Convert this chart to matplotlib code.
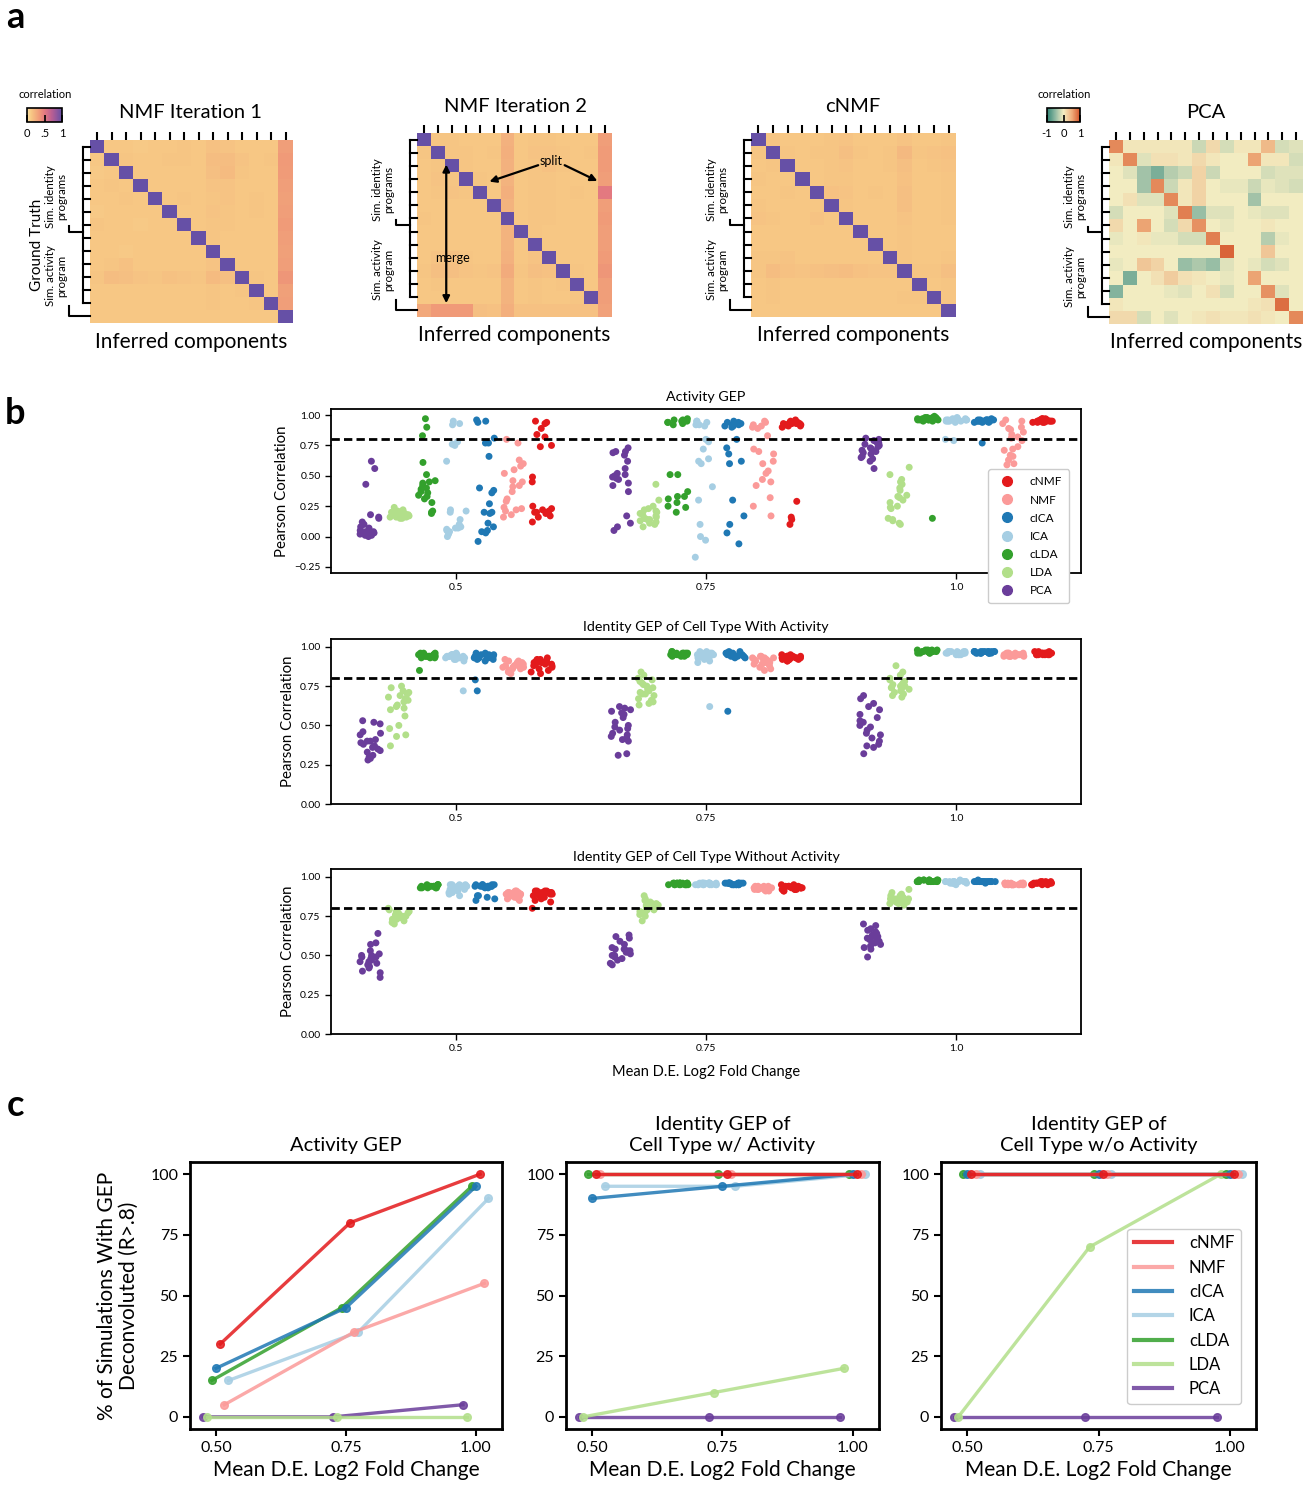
import numpy as np
import pandas as pd
import matplotlib
matplotlib.use("Agg")
import matplotlib.pyplot as plt
import seaborn as sns
from matplotlib.colors import LinearSegmentedColormap, Normalize
from matplotlib.cm import ScalarMappable
from matplotlib.lines import Line2D
from matplotlib.transforms import blended_transform_factory

plt.rcParams['font.family'] = ['Lato', 'DejaVu Sans']

# ---------------- data ----------------
methods = ['cNMF', 'NMF', 'cICA', 'ICA', 'cLDA', 'LDA', 'PCA']
method_colors = ['#e31a1c', '#fb9a99', '#1f78b4', '#a6cee3', '#33a02c', '#b2df8a', '#6a3d9a']
strip_order = ['PCA', 'LDA', 'cLDA', 'ICA', 'cICA', 'NMF', 'cNMF']
fc_labels = ['0.5', '0.75', '1.0']
fold_changes = [0.5, 0.75, 1.0]

# correlation matrices (x100), rows = ground truth, cols = inferred components
nmf1_corr = [
    [100, 12, 12, 11, 12, 12, 13, 12, 15, 14, 12, 12, 12, 33],
    [12, 100, 13, 12, 12, 13, 13, 12, 17, 17, 14, 12, 13, 35],
    [11, 12, 100, 12, 12, 12, 12, 12, 16, 18, 13, 12, 12, 34],
    [12, 13, 12, 100, 12, 12, 12, 12, 14, 14, 12, 12, 12, 33],
    [12, 12, 13, 12, 100, 12, 13, 12, 13, 14, 12, 13, 12, 32],
    [11, 12, 12, 12, 12, 100, 12, 12, 14, 13, 12, 13, 12, 33],
    [13, 12, 12, 11, 12, 12, 100, 12, 13, 13, 12, 12, 12, 34],
    [12, 12, 12, 12, 12, 12, 12, 100, 13, 12, 12, 12, 12, 33],
    [12, 12, 11, 12, 12, 12, 12, 12, 100, 12, 12, 12, 12, 32],
    [12, 13, 15, 12, 12, 12, 12, 12, 14, 100, 12, 12, 12, 33],
    [13, 17, 16, 14, 13, 15, 14, 13, 18, 16, 100, 13, 12, 37],
    [12, 12, 12, 12, 12, 12, 12, 12, 13, 12, 13, 100, 12, 32],
    [12, 12, 12, 12, 12, 12, 12, 12, 13, 12, 12, 13, 100, 33],
    [12, 12, 12, 12, 12, 12, 12, 12, 12, 12, 12, 12, 12, 100],
]
nmf2_corr = [
    [100, 13, 13, 12, 12, 12, 23, 12, 13, 13, 12, 12, 12, 33],
    [13, 100, 13, 13, 12, 13, 24, 12, 14, 14, 13, 12, 13, 34],
    [12, 13, 100, 13, 12, 12, 23, 12, 13, 15, 13, 12, 12, 34],
    [12, 14, 13, 100, 13, 12, 22, 12, 13, 13, 12, 12, 12, 33],
    [12, 13, 14, 13, 100, 12, 24, 12, 13, 13, 12, 13, 12, 50],
    [12, 12, 12, 12, 12, 100, 22, 12, 13, 13, 12, 12, 12, 33],
    [13, 12, 12, 12, 12, 12, 100, 12, 13, 13, 12, 12, 12, 34],
    [12, 12, 12, 12, 12, 12, 22, 100, 13, 12, 12, 12, 12, 33],
    [12, 12, 12, 12, 12, 12, 22, 12, 100, 12, 12, 12, 12, 33],
    [12, 14, 15, 13, 12, 12, 23, 12, 14, 100, 12, 12, 12, 34],
    [13, 16, 16, 14, 13, 14, 26, 13, 16, 15, 100, 13, 12, 37],
    [12, 13, 12, 12, 12, 12, 22, 12, 13, 12, 13, 100, 12, 33],
    [12, 12, 12, 12, 12, 12, 22, 12, 13, 12, 12, 13, 100, 33],
    [28, 35, 35, 35, 16, 15, 24, 15, 15, 15, 15, 15, 15, 31],
]
cnmf_corr = [
    [100, 13, 12, 12, 12, 13, 14, 12, 12, 12, 14, 12, 12, 13],
    [13, 100, 13, 12, 13, 13, 16, 13, 12, 13, 19, 13, 14, 15],
    [12, 13, 100, 12, 12, 13, 14, 12, 12, 13, 16, 12, 13, 14],
    [13, 12, 12, 100, 12, 13, 13, 12, 12, 12, 15, 12, 12, 13],
    [12, 12, 13, 12, 100, 15, 14, 12, 13, 12, 16, 12, 12, 13],
    [13, 12, 12, 12, 12, 100, 13, 12, 12, 12, 16, 12, 12, 13],
    [14, 13, 12, 12, 14, 12, 100, 12, 12, 12, 14, 12, 12, 13],
    [12, 12, 12, 12, 12, 12, 12, 100, 12, 12, 13, 12, 12, 12],
    [12, 12, 12, 12, 12, 12, 12, 12, 100, 12, 13, 12, 12, 12],
    [13, 13, 14, 12, 12, 12, 12, 12, 12, 100, 13, 12, 12, 13],
    [13, 17, 15, 14, 15, 16, 17, 15, 14, 14, 100, 13, 13, 16],
    [12, 13, 12, 12, 12, 12, 12, 12, 12, 12, 12, 100, 12, 13],
    [12, 13, 12, 12, 12, 12, 12, 12, 12, 12, 13, 13, 100, 13],
    [12, 12, 12, 12, 12, 12, 12, 12, 12, 12, 12, 12, 12, 100],
]
pca_corr = [
    [70, 5, 5, 5, 5, 5, -20, 15, -15, 5, 5, 40, -15, -10],
    [5, 70, -10, 10, 10, 5, 15, 5, 0, 0, 55, 5, 5, -15],
    [0, -10, -40, -60, -30, -20, 20, -20, 0, 0, 0, -15, -10, -10],
    [0, 0, -40, 70, -20, 5, 20, 0, -5, -5, -20, -5, -10, -15],
    [0, 10, -10, -10, 70, 5, 20, 0, 0, 0, -40, 0, 0, 0],
    [-15, 0, 0, 0, -10, 75, -45, -10, -10, 0, -5, -10, -10, 0],
    [15, 0, 55, 0, -15, 15, 65, 0, -5, 0, 0, 5, 0, 0],
    [-5, 0, 5, -5, -5, -15, -15, 75, 0, 0, 0, -30, -5, 0],
    [0, 0, 0, 0, 0, 0, 0, 0, 90, 0, 0, 30, 0, 0],
    [-5, 0, 30, 20, 0, -45, -35, -45, -10, 0, -5, -15, -10, 0],
    [0, -60, 0, 10, 25, 10, 5, 0, -5, 0, 55, 0, 0, 0],
    [-55, 0, 0, 0, -5, -10, 0, 10, -15, 0, 0, 65, -10, 0],
    [5, 0, 0, 0, 0, 0, 0, 0, 0, 0, 5, 10, 85, 0],
    [15, 15, -15, 0, -10, 0, 5, 10, 5, 5, 10, 5, 0, 70],
]

# Pearson correlation per simulation, [fc 0.5, fc 0.75, fc 1.0]
act_pca = [
    [0.62, 0.56, 0.43, 0.18, 0.16, 0.15, 0.12, 0.10, 0.08, 0.07, 0.05, 0.05, 0.04, 0.04, 0.03, 0.03, 0.02, 0.01, 0.01, 0.00],
    [0.73, 0.70, 0.70, 0.69, 0.67, 0.62, 0.56, 0.52, 0.51, 0.49, 0.48, 0.47, 0.44, 0.42, 0.37, 0.17, 0.11, 0.08, 0.05, 0.50],
    [0.81, 0.80, 0.79, 0.78, 0.77, 0.76, 0.75, 0.74, 0.73, 0.72, 0.71, 0.70, 0.69, 0.68, 0.66, 0.65, 0.64, 0.62, 0.56, 0.78]]
act_lda = [
    [0.24, 0.22, 0.21, 0.20, 0.20, 0.19, 0.19, 0.18, 0.18, 0.18, 0.17, 0.17, 0.17, 0.16, 0.16, 0.16, 0.15, 0.15, 0.19, 0.18],
    [0.43, 0.30, 0.25, 0.23, 0.22, 0.21, 0.20, 0.19, 0.18, 0.17, 0.16, 0.15, 0.15, 0.14, 0.14, 0.13, 0.12, 0.11, 0.10, 0.08],
    [0.57, 0.51, 0.47, 0.45, 0.43, 0.40, 0.38, 0.34, 0.33, 0.32, 0.30, 0.28, 0.25, 0.24, 0.23, 0.15, 0.14, 0.13, 0.11, 0.10]]
act_clda = [
    [0.97, 0.90, 0.83, 0.61, 0.51, 0.46, 0.45, 0.44, 0.42, 0.40, 0.39, 0.37, 0.36, 0.34, 0.33, 0.31, 0.28, 0.21, 0.20, 0.19],
    [0.97, 0.96, 0.96, 0.95, 0.95, 0.95, 0.94, 0.94, 0.93, 0.92, 0.51, 0.51, 0.37, 0.33, 0.33, 0.31, 0.28, 0.25, 0.24, 0.20],
    [0.99, 0.98, 0.98, 0.98, 0.97, 0.97, 0.97, 0.97, 0.97, 0.96, 0.96, 0.96, 0.96, 0.96, 0.95, 0.95, 0.97, 0.98, 0.96, 0.15]]
act_ica = [
    [0.95, 0.93, 0.92, 0.78, 0.76, 0.75, 0.62, 0.22, 0.21, 0.20, 0.14, 0.10, 0.08, 0.07, 0.07, 0.06, 0.05, 0.04, 0.02, 0.00],
    [0.95, 0.95, 0.94, 0.93, 0.92, 0.91, 0.80, 0.79, 0.78, 0.72, 0.64, 0.62, 0.60, 0.41, 0.30, 0.10, 0.00, -0.03, -0.17, 0.92],
    [0.98, 0.97, 0.97, 0.97, 0.96, 0.96, 0.96, 0.96, 0.96, 0.96, 0.95, 0.95, 0.95, 0.95, 0.97, 0.96, 0.94, 0.80, 0.79, 0.96]]
act_cica = [
    [0.96, 0.95, 0.94, 0.81, 0.77, 0.77, 0.66, 0.40, 0.38, 0.36, 0.27, 0.20, 0.20, 0.19, 0.11, 0.08, 0.05, 0.04, 0.03, -0.04],
    [0.95, 0.94, 0.94, 0.93, 0.93, 0.92, 0.92, 0.91, 0.91, 0.90, 0.80, 0.73, 0.68, 0.62, 0.60, 0.30, 0.17, 0.10, 0.03, -0.06],
    [0.97, 0.96, 0.96, 0.96, 0.95, 0.95, 0.95, 0.95, 0.95, 0.94, 0.94, 0.96, 0.95, 0.96, 0.95, 0.94, 0.95, 0.96, 0.95, 0.77]]
act_nmf = [
    [0.80, 0.77, 0.63, 0.60, 0.58, 0.55, 0.52, 0.46, 0.45, 0.42, 0.41, 0.37, 0.31, 0.29, 0.24, 0.23, 0.22, 0.21, 0.18, 0.16],
    [0.95, 0.94, 0.92, 0.91, 0.90, 0.89, 0.83, 0.72, 0.70, 0.68, 0.62, 0.60, 0.54, 0.52, 0.47, 0.45, 0.42, 0.32, 0.25, 0.17],
    [0.96, 0.95, 0.93, 0.90, 0.89, 0.88, 0.86, 0.84, 0.82, 0.81, 0.79, 0.74, 0.72, 0.71, 0.67, 0.66, 0.63, 0.60, 0.59, 0.51]]
act_cnmf = [
    [0.95, 0.94, 0.93, 0.89, 0.84, 0.82, 0.75, 0.74, 0.49, 0.45, 0.25, 0.23, 0.22, 0.21, 0.20, 0.20, 0.19, 0.17, 0.16, 0.12],
    [0.96, 0.95, 0.95, 0.94, 0.94, 0.93, 0.93, 0.93, 0.92, 0.92, 0.92, 0.91, 0.91, 0.90, 0.93, 0.94, 0.29, 0.16, 0.14, 0.10],
    [0.97, 0.97, 0.96, 0.96, 0.96, 0.96, 0.95, 0.95, 0.95, 0.95, 0.95, 0.94, 0.94, 0.94, 0.96, 0.97, 0.95, 0.96, 0.94, 0.95]]

idw_pca = [
    [0.53, 0.52, 0.51, 0.46, 0.44, 0.41, 0.40, 0.40, 0.39, 0.38, 0.37, 0.36, 0.35, 0.34, 0.33, 0.31, 0.30, 0.29, 0.28, 0.45],
    [0.62, 0.61, 0.60, 0.59, 0.58, 0.57, 0.55, 0.52, 0.50, 0.49, 0.48, 0.47, 0.45, 0.44, 0.43, 0.42, 0.41, 0.40, 0.32, 0.31],
    [0.69, 0.67, 0.64, 0.62, 0.60, 0.57, 0.55, 0.53, 0.52, 0.50, 0.49, 0.47, 0.45, 0.44, 0.42, 0.40, 0.38, 0.37, 0.36, 0.32]]
idw_lda = [
    [0.75, 0.74, 0.72, 0.71, 0.70, 0.69, 0.68, 0.67, 0.66, 0.65, 0.63, 0.62, 0.61, 0.60, 0.56, 0.50, 0.48, 0.44, 0.43, 0.37],
    [0.84, 0.82, 0.80, 0.79, 0.78, 0.77, 0.76, 0.75, 0.74, 0.73, 0.72, 0.71, 0.70, 0.70, 0.69, 0.67, 0.66, 0.65, 0.64, 0.63],
    [0.88, 0.84, 0.82, 0.80, 0.79, 0.78, 0.77, 0.76, 0.76, 0.75, 0.75, 0.74, 0.74, 0.73, 0.73, 0.72, 0.71, 0.70, 0.69, 0.68]]
idw_clda = [
    [0.96, 0.96, 0.95, 0.95, 0.95, 0.95, 0.94, 0.94, 0.94, 0.94, 0.94, 0.93, 0.93, 0.93, 0.95, 0.94, 0.96, 0.95, 0.94, 0.85],
    [0.97, 0.97, 0.96, 0.96, 0.96, 0.96, 0.96, 0.95, 0.95, 0.95, 0.95, 0.95, 0.95, 0.94, 0.94, 0.96, 0.95, 0.96, 0.95, 0.94],
    [0.98, 0.98, 0.98, 0.97, 0.97, 0.97, 0.97, 0.97, 0.97, 0.97, 0.96, 0.96, 0.96, 0.98, 0.97, 0.97, 0.96, 0.97, 0.98, 0.97]]
idw_ica = [
    [0.96, 0.95, 0.95, 0.95, 0.94, 0.94, 0.94, 0.94, 0.93, 0.93, 0.93, 0.93, 0.92, 0.92, 0.91, 0.94, 0.95, 0.93, 0.94, 0.72],
    [0.97, 0.97, 0.96, 0.96, 0.96, 0.95, 0.95, 0.95, 0.95, 0.94, 0.94, 0.94, 0.93, 0.93, 0.92, 0.91, 0.90, 0.96, 0.95, 0.62],
    [0.97, 0.97, 0.97, 0.97, 0.96, 0.96, 0.96, 0.96, 0.96, 0.96, 0.96, 0.95, 0.95, 0.95, 0.97, 0.96, 0.96, 0.95, 0.97, 0.96]]
idw_cica = [
    [0.96, 0.96, 0.95, 0.95, 0.95, 0.94, 0.94, 0.94, 0.94, 0.93, 0.93, 0.93, 0.92, 0.92, 0.91, 0.95, 0.94, 0.93, 0.79, 0.72],
    [0.97, 0.97, 0.96, 0.96, 0.96, 0.96, 0.95, 0.95, 0.95, 0.95, 0.95, 0.94, 0.94, 0.94, 0.93, 0.93, 0.96, 0.95, 0.94, 0.59],
    [0.97, 0.97, 0.97, 0.97, 0.97, 0.97, 0.96, 0.96, 0.96, 0.96, 0.96, 0.96, 0.97, 0.97, 0.96, 0.97, 0.96, 0.97, 0.96, 0.97]]
idw_nmf = [
    [0.92, 0.91, 0.91, 0.90, 0.90, 0.89, 0.89, 0.88, 0.88, 0.87, 0.87, 0.86, 0.86, 0.85, 0.84, 0.83, 0.90, 0.89, 0.88, 0.87],
    [0.94, 0.94, 0.93, 0.93, 0.92, 0.92, 0.91, 0.91, 0.90, 0.90, 0.89, 0.88, 0.87, 0.86, 0.85, 0.92, 0.91, 0.93, 0.89, 0.90],
    [0.96, 0.96, 0.96, 0.95, 0.95, 0.95, 0.95, 0.95, 0.94, 0.94, 0.94, 0.94, 0.95, 0.96, 0.95, 0.94, 0.95, 0.96, 0.95, 0.94]]
idw_cnmf = [
    [0.93, 0.92, 0.92, 0.91, 0.91, 0.90, 0.90, 0.90, 0.89, 0.89, 0.88, 0.88, 0.87, 0.86, 0.85, 0.84, 0.83, 0.91, 0.90, 0.89],
    [0.95, 0.95, 0.94, 0.94, 0.94, 0.93, 0.93, 0.93, 0.93, 0.92, 0.92, 0.92, 0.91, 0.91, 0.94, 0.93, 0.92, 0.93, 0.94, 0.92],
    [0.97, 0.97, 0.96, 0.96, 0.96, 0.96, 0.96, 0.95, 0.95, 0.95, 0.95, 0.95, 0.96, 0.97, 0.96, 0.95, 0.96, 0.96, 0.95, 0.96]]

ido_pca = [
    [0.64, 0.58, 0.57, 0.53, 0.51, 0.50, 0.50, 0.49, 0.49, 0.48, 0.47, 0.46, 0.46, 0.45, 0.44, 0.43, 0.42, 0.40, 0.39, 0.36],
    [0.63, 0.62, 0.61, 0.59, 0.57, 0.55, 0.54, 0.54, 0.53, 0.53, 0.52, 0.52, 0.51, 0.50, 0.50, 0.49, 0.48, 0.47, 0.45, 0.44],
    [0.70, 0.69, 0.67, 0.66, 0.65, 0.64, 0.63, 0.62, 0.62, 0.61, 0.60, 0.60, 0.59, 0.58, 0.58, 0.57, 0.56, 0.55, 0.54, 0.49]]
ido_lda = [
    [0.80, 0.79, 0.78, 0.78, 0.77, 0.77, 0.76, 0.76, 0.75, 0.75, 0.74, 0.74, 0.74, 0.73, 0.73, 0.72, 0.72, 0.71, 0.71, 0.70],
    [0.88, 0.86, 0.85, 0.84, 0.83, 0.83, 0.82, 0.82, 0.81, 0.81, 0.80, 0.80, 0.79, 0.79, 0.78, 0.78, 0.77, 0.76, 0.75, 0.72],
    [0.92, 0.90, 0.89, 0.88, 0.88, 0.87, 0.87, 0.86, 0.86, 0.86, 0.85, 0.85, 0.85, 0.84, 0.84, 0.84, 0.83, 0.83, 0.82, 0.86]]
ido_clda = [
    [0.95, 0.95, 0.95, 0.94, 0.94, 0.94, 0.94, 0.94, 0.94, 0.94, 0.93, 0.93, 0.93, 0.94, 0.95, 0.94, 0.93, 0.94, 0.94, 0.93],
    [0.96, 0.96, 0.96, 0.96, 0.96, 0.96, 0.95, 0.95, 0.95, 0.95, 0.95, 0.95, 0.96, 0.96, 0.95, 0.96, 0.95, 0.96, 0.96, 0.95],
    [0.98, 0.98, 0.98, 0.98, 0.97, 0.97, 0.97, 0.97, 0.97, 0.97, 0.97, 0.97, 0.98, 0.97, 0.97, 0.98, 0.97, 0.97, 0.98, 0.97]]
ido_ica = [
    [0.95, 0.95, 0.95, 0.94, 0.94, 0.94, 0.94, 0.93, 0.93, 0.93, 0.92, 0.92, 0.91, 0.91, 0.90, 0.90, 0.89, 0.88, 0.94, 0.95],
    [0.96, 0.96, 0.96, 0.96, 0.96, 0.96, 0.95, 0.95, 0.95, 0.95, 0.95, 0.95, 0.96, 0.96, 0.95, 0.96, 0.95, 0.96, 0.95, 0.96],
    [0.98, 0.97, 0.97, 0.97, 0.97, 0.97, 0.97, 0.97, 0.97, 0.96, 0.96, 0.96, 0.96, 0.96, 0.95, 0.97, 0.96, 0.97, 0.96, 0.97]]
ido_cica = [
    [0.95, 0.95, 0.95, 0.95, 0.94, 0.94, 0.94, 0.94, 0.94, 0.94, 0.94, 0.93, 0.93, 0.95, 0.94, 0.88, 0.88, 0.87, 0.86, 0.85],
    [0.96, 0.96, 0.96, 0.96, 0.96, 0.96, 0.96, 0.95, 0.95, 0.95, 0.95, 0.95, 0.96, 0.96, 0.96, 0.95, 0.96, 0.95, 0.96, 0.96],
    [0.97, 0.97, 0.97, 0.97, 0.97, 0.97, 0.97, 0.97, 0.97, 0.97, 0.97, 0.97, 0.98, 0.97, 0.97, 0.96, 0.97, 0.97, 0.97, 0.97]]
ido_nmf = [
    [0.91, 0.91, 0.90, 0.90, 0.90, 0.89, 0.89, 0.89, 0.88, 0.88, 0.88, 0.87, 0.87, 0.86, 0.86, 0.85, 0.90, 0.89, 0.88, 0.87],
    [0.94, 0.94, 0.94, 0.93, 0.93, 0.93, 0.93, 0.92, 0.92, 0.92, 0.92, 0.91, 0.91, 0.93, 0.94, 0.93, 0.92, 0.93, 0.92, 0.93],
    [0.96, 0.96, 0.96, 0.96, 0.95, 0.95, 0.95, 0.95, 0.95, 0.95, 0.95, 0.95, 0.96, 0.95, 0.95, 0.96, 0.95, 0.95, 0.96, 0.95]]
ido_cnmf = [
    [0.91, 0.91, 0.91, 0.90, 0.90, 0.90, 0.90, 0.89, 0.89, 0.89, 0.88, 0.88, 0.87, 0.86, 0.85, 0.84, 0.90, 0.89, 0.91, 0.80],
    [0.95, 0.95, 0.94, 0.94, 0.94, 0.94, 0.93, 0.93, 0.93, 0.93, 0.92, 0.92, 0.92, 0.91, 0.91, 0.94, 0.93, 0.94, 0.92, 0.93],
    [0.97, 0.97, 0.97, 0.96, 0.96, 0.96, 0.96, 0.96, 0.96, 0.95, 0.95, 0.95, 0.95, 0.96, 0.97, 0.96, 0.96, 0.95, 0.96, 0.96]]

# % of simulations with R > .8, order as `methods`
pct_activity = [[30, 80, 100], [5, 35, 55], [20, 45, 95], [15, 35, 90], [15, 45, 95], [0, 0, 0], [0, 0, 5]]
pct_id_with = [[100, 100, 100], [100, 100, 100], [90, 95, 100], [95, 95, 100], [100, 100, 100], [0, 10, 20], [0, 0, 0]]
pct_id_without = [[100, 100, 100], [100, 100, 100], [100, 100, 100], [100, 100, 100], [100, 100, 100], [0, 70, 100], [0, 0, 0]]

# ---------------- style ----------------
W, H = 1314, 1500
fig = plt.figure(figsize=(W / 100, H / 100), dpi=100)
color_of = dict(zip(methods, method_colors))
dodge_of = {'PCA': -0.025, 'LDA': -0.017, 'cLDA': -0.008, 'cICA': 0.0,
            'cNMF': 0.008, 'NMF': 0.016, 'ICA': 0.024}

nmf_cmap = LinearSegmentedColormap.from_list('nmfc', [
    (0, '#fbe1a2'), (0.12, '#f7c784'), (0.35, '#f09a78'), (0.5, '#e47a80'),
    (0.7, '#bc5f92'), (1, '#6650a6')])
pca_cmap = LinearSegmentedColormap.from_list('pcac', [
    (0, '#2f8474'), (0.25, '#8fb9a2'), (0.5, '#f3edc2'), (0.75, '#efae7c'), (1, '#d4532a')])


def px_axes(x0, y0, x1, y1):
    return fig.add_axes([x0 / W, 1 - y1 / H, (x1 - x0) / W, (y1 - y0) / H])


def ftext(x, y, s, **kw):
    fig.text(x / W, 1 - y / H, s, **kw)


def heatmap(box, mat, cmap, vmin, vmax, ground=False):
    ax = px_axes(*box)
    ax.imshow(np.array(mat) / 100, cmap=cmap, vmin=vmin, vmax=vmax, aspect='auto',
              extent=(0, 14, 14, 0), interpolation='nearest')
    ax.set_xlim(0, 14)
    ax.set_ylim(14, 0)
    ax.xaxis.tick_top()
    ax.set_xticks(np.arange(14) + 0.5)
    ax.set_xticklabels([])
    ax.set_yticks([])
    ax.tick_params(axis='x', length=6, width=1.5, top=True, bottom=False)
    for s in ax.spines.values():
        s.set_visible(False)
    # ground truth brackets on the left
    w = box[2] - box[0]
    f = lambda p: -p / w
    tr = blended_transform_factory(ax.transAxes, ax.transData)
    kw = dict(color='k', lw=1.5, transform=tr, clip_on=False)
    ax.plot([f(7), f(7)], [0.5, 12.5], **kw)
    for r in range(13):
        ax.plot([f(7), 0], [r + 0.5, r + 0.5], **kw)
    ax.plot([f(7), f(21), f(21)], [7.0, 7.0, 6.6], **kw)
    ax.plot([f(21), f(21), 0], [12.7, 13.5, 13.5], **kw)
    ax.text(f(34), 4.3, 'Sim. identity\nprograms', rotation=90, ha='center', va='center',
            fontsize=8.3, linespacing=1.1, transform=tr)
    ax.text(f(34), 10.4, 'Sim. activity\nprogram', rotation=90, ha='center', va='center',
            fontsize=8.3, linespacing=1.1, transform=tr)
    if ground:
        ax.text(f(53), 8.0, 'Ground Truth', rotation=90, ha='center', va='center',
                fontsize=11, transform=tr)
    return ax


def small_cbar(box, cmap, vmin, vmax, ticks, labels, label_x):
    cax = px_axes(*box)
    cb = fig.colorbar(ScalarMappable(norm=Normalize(vmin, vmax), cmap=cmap), cax=cax,
                      orientation='horizontal', ticks=ticks)
    cb.set_ticklabels(labels)
    cb.outline.set_linewidth(1.2)
    cax.tick_params(direction='in', length=5, width=1.2, labelsize=8, pad=4)
    ftext(label_x, 94, 'correlation', ha='center', va='center', fontsize=8)


# ---------------- panel a ----------------
ftext(15, 18, 'a', fontsize=26, fontweight='bold', ha='center', va='center')
heatmap((90, 140, 293, 323), nmf1_corr, nmf_cmap, 0, 1, ground=True)
ax2 = heatmap((417, 133, 612, 317), nmf2_corr, nmf_cmap, 0, 1)
heatmap((751, 133, 956, 317), cnmf_corr, nmf_cmap, 0, 1)
heatmap((1109, 140, 1303, 324), pca_corr, pca_cmap, -1, 1)
small_cbar((27, 108, 62, 122), nmf_cmap, 0, 1, [0, 0.5, 1], ['0', '.5', '1'], 45)
small_cbar((1047, 108, 1080, 122), pca_cmap, -1, 1, [-1, 0, 1], ['-1', '0', '1'], 1064)

for x, y, s in [(190, 113, 'NMF Iteration 1'), (515, 106, 'NMF Iteration 2'),
                (853, 106, 'cNMF'), (1206, 113, 'PCA')]:
    ftext(x, y, s, fontsize=14.5, ha='center', va='center')
for x, y in [(191, 342), (514, 335), (853, 335), (1206, 342)]:
    ftext(x, y, 'Inferred components', fontsize=15, ha='center', va='center')

# merge / split annotations
ax2.annotate('', xy=(2.1, 2.4), xytext=(2.1, 12.95),
             arrowprops=dict(arrowstyle='<|-|>', lw=1.6, color='k', mutation_scale=10, shrinkA=0, shrinkB=0))
ax2.text(2.55, 9.5, 'merge', fontsize=9, ha='center', va='center')
ax2.text(9.6, 2.1, 'split', fontsize=9, ha='center', va='center')
ax2.annotate('', xy=(5.2, 3.7), xytext=(8.7, 2.45),
             arrowprops=dict(arrowstyle='-|>', lw=1.6, color='k', mutation_scale=10, shrinkA=0, shrinkB=0))
ax2.annotate('', xy=(12.95, 3.65), xytext=(10.6, 2.45),
             arrowprops=dict(arrowstyle='-|>', lw=1.6, color='k', mutation_scale=10, shrinkA=0, shrinkB=0))

# ---------------- panel b ----------------
ftext(15, 413, 'b', fontsize=26, fontweight='bold', ha='center', va='center')
np.random.seed(3)
strip_sets = [
    ('Activity GEP', (409, 573), (-0.30, 1.05), [-0.25, 0, 0.25, 0.5, 0.75, 1.0],
     dict(cNMF=act_cnmf, NMF=act_nmf, cICA=act_cica, ICA=act_ica, cLDA=act_clda, LDA=act_lda, PCA=act_pca)),
    ('Identity GEP of Cell Type With Activity', (639, 804), (0, 1.05), [0, 0.25, 0.5, 0.75, 1.0],
     dict(cNMF=idw_cnmf, NMF=idw_nmf, cICA=idw_cica, ICA=idw_ica, cLDA=idw_clda, LDA=idw_lda, PCA=idw_pca)),
    ('Identity GEP of Cell Type Without Activity', (869, 1034), (0, 1.05), [0, 0.25, 0.5, 0.75, 1.0],
     dict(cNMF=ido_cnmf, NMF=ido_nmf, cICA=ido_cica, ICA=ido_ica, cLDA=ido_clda, LDA=ido_lda, PCA=ido_pca)),
]
for k, (title, (yt, yb), ylim, yticks, series) in enumerate(strip_sets):
    rows = []
    for m, vals in series.items():
        for fc, group in zip(fc_labels, vals):
            for v in group:
                rows.append((fc, m, v))
    df = pd.DataFrame(rows, columns=['fc', 'method', 'r'])
    ax = px_axes(331, yt, 1081, yb)
    sns.stripplot(data=df, x='fc', y='r', hue='method', order=fc_labels, hue_order=strip_order,
                  palette=color_of, dodge=True, jitter=0.3, size=5, linewidth=0, ax=ax, legend=False)
    ax.axhline(0.8, color='k', ls=(0, (3, 1.5)), lw=2, zorder=5)
    ax.set_xlim(-0.5, 2.5)
    ax.set_ylim(*ylim)
    ax.set_yticks(yticks)
    ax.set_title(title, fontsize=10.3, pad=6)
    ax.set_ylabel('Pearson Correlation', fontsize=10.8)
    ax.set_xlabel('Mean D.E. Log2 Fold Change' if k == 2 else '', fontsize=10.5, labelpad=8)
    ax.tick_params(labelsize=7.5, length=4, width=1)
    for s in ax.spines.values():
        s.set_linewidth(1.3)
    if k == 0:
        handles = [Line2D([], [], marker='o', ls='', color=color_of[m], ms=7) for m in methods]
        ax.legend(handles, methods, loc='lower right', bbox_to_anchor=(0.984, -0.183),
                  borderaxespad=0, fontsize=8.5, labelspacing=0.6, handletextpad=0.9,
                  borderpad=0.6, frameon=True, edgecolor='#cccccc', framealpha=1)

# ---------------- panel c ----------------
ftext(15, 1105, 'c', fontsize=26, fontweight='bold', ha='center', va='center')
line_sets = [
    ('Activity GEP', (190, 502), pct_activity),
    ('Identity GEP of\nCell Type w/ Activity', (566, 879), pct_id_with),
    ('Identity GEP of\nCell Type w/o Activity', (941, 1256), pct_id_without),
]
draw_order = ['PCA', 'LDA', 'cLDA', 'ICA', 'cICA', 'NMF', 'cNMF']
for k, (title, (xl, xr), pct) in enumerate(line_sets):
    ax = px_axes(xl, 1162, xr, 1429)
    for m in draw_order:
        i = methods.index(m)
        ax.plot(np.array(fold_changes) + dodge_of[m], pct[i], color=color_of[m], lw=2.4,
                marker='o', ms=5.5, alpha=0.85, label=m)
    ax.set_xlim(0.45, 1.05)
    ax.set_ylim(-5, 105)
    ax.set_xticks(fold_changes)
    ax.set_xticklabels(['0.50', '0.75', '1.00'])
    ax.set_yticks([0, 25, 50, 75, 100])
    ax.set_title(title, fontsize=14.5, pad=8, linespacing=1.25)
    ax.set_xlabel('Mean D.E. Log2 Fold Change', fontsize=15)
    ax.tick_params(labelsize=11.5, length=5, width=1.5)
    for s in ax.spines.values():
        s.set_linewidth(2)
    if k == 0:
        ax.set_ylabel('% of Simulations With GEP\nDeconvoluted (R>.8)', fontsize=15,
                      linespacing=1.1, labelpad=8)
    if k == 2:
        handles = [Line2D([], [], color=color_of[m], lw=3, alpha=0.85) for m in methods]
        ax.legend(handles, methods, loc='lower right', bbox_to_anchor=(0.952, 0.094),
                  borderaxespad=0, fontsize=12, labelspacing=0.5, handlelength=2.3,
                  handletextpad=1.0, frameon=True, edgecolor='#cccccc', framealpha=1)

fig.savefig('out.png', dpi=100)
